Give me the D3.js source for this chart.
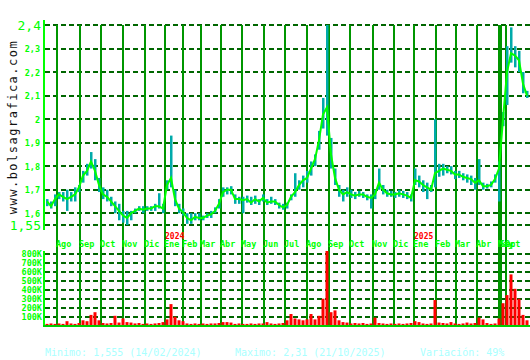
<!DOCTYPE html>
<meta charset="utf-8">
<style>
  body { margin: 0; background: #fff; }
  svg { display: block; }
  text { font-family: "DejaVu Sans Mono", monospace; }
</style>
<script src="https://d3js.org/d3.v7.min.js"></script>
<div id="chart"></div>
<script>
// one entry = one block of ~4 trading days, Jul 2023 .. Oct 2025
var close = [1.65,1.63,1.66,1.68,1.67,1.66,1.67,1.68,1.71,1.76,1.78,1.82,1.78,1.72,1.68,1.67,1.65,1.63,1.61,1.59,
  1.58,1.60,1.61,1.62,1.615,1.62,1.62,1.63,1.63,1.62,1.72,1.75,1.66,1.62,1.605,1.58,1.57,1.585,1.58,1.58,
  1.59,1.595,1.61,1.64,1.69,1.70,1.70,1.66,1.66,1.655,1.66,1.645,1.66,1.65,1.665,1.645,1.65,1.65,1.635,1.625,
  1.635,1.67,1.69,1.72,1.74,1.75,1.79,1.83,1.91,2.02,2.05,1.85,1.75,1.70,1.68,1.69,1.68,1.675,1.68,1.68,
  1.67,1.665,1.68,1.73,1.70,1.685,1.68,1.68,1.685,1.68,1.675,1.665,1.74,1.735,1.72,1.71,1.70,1.77,1.78,1.79,
  1.785,1.78,1.765,1.765,1.755,1.75,1.745,1.73,1.74,1.715,1.715,1.72,1.745,1.79,2.00,2.20,2.28,2.27,2.25,2.15,
  2.10];
var high = [1.66,1.65,1.68,1.69,1.69,1.70,1.69,1.71,1.72,1.78,1.81,1.86,1.83,1.75,1.71,1.70,1.67,1.65,1.64,1.61,
  1.61,1.61,1.62,1.63,1.63,1.63,1.63,1.64,1.685,1.64,1.74,1.93,1.70,1.64,1.62,1.60,1.60,1.60,1.60,1.59,
  1.60,1.61,1.625,1.66,1.71,1.71,1.715,1.68,1.67,1.67,1.675,1.67,1.675,1.66,1.68,1.66,1.67,1.66,1.645,1.64,
  1.645,1.68,1.77,1.74,1.76,1.78,1.82,1.85,1.95,2.09,2.40,1.92,1.79,1.72,1.70,1.71,1.70,1.69,1.695,1.69,
  1.68,1.68,1.70,1.79,1.72,1.70,1.695,1.69,1.70,1.695,1.69,1.68,1.79,1.76,1.74,1.73,1.72,2.00,1.81,1.81,
  1.80,1.80,1.78,1.78,1.77,1.765,1.76,1.75,1.83,1.73,1.725,1.735,1.765,1.82,2.03,2.31,2.39,2.31,2.29,2.20,
  2.12];
var low = [1.63,1.62,1.63,1.66,1.65,1.61,1.65,1.65,1.69,1.73,1.76,1.79,1.74,1.69,1.66,1.65,1.63,1.60,1.57,1.56,
  1.55,1.57,1.60,1.61,1.60,1.61,1.61,1.61,1.62,1.60,1.70,1.71,1.63,1.60,1.59,1.555,1.555,1.57,1.57,1.57,
  1.58,1.58,1.60,1.62,1.67,1.68,1.68,1.64,1.64,1.60,1.645,1.635,1.64,1.635,1.65,1.635,1.64,1.635,1.62,1.615,
  1.62,1.655,1.67,1.70,1.71,1.73,1.76,1.80,1.87,1.96,1.93,1.79,1.72,1.67,1.65,1.67,1.665,1.66,1.67,1.665,
  1.655,1.62,1.66,1.70,1.68,1.67,1.67,1.665,1.67,1.665,1.66,1.65,1.72,1.71,1.69,1.66,1.69,1.71,1.755,1.76,
  1.77,1.765,1.745,1.75,1.74,1.73,1.72,1.70,1.72,1.70,1.705,1.71,1.73,1.65,1.97,2.06,2.24,2.22,2.20,2.11,
  2.09];
// volume, thousands of shares
var volume = [20,25,20,25,20,50,25,20,30,60,50,120,150,60,30,25,30,110,35,80,
  40,35,25,30,20,25,20,25,30,40,70,240,100,60,50,25,20,25,20,25,
  20,25,25,30,40,40,35,20,25,20,20,25,20,25,25,40,25,20,25,30,
  60,130,80,70,60,70,130,70,110,300,830,150,170,60,40,35,25,30,25,30,
  20,25,90,30,25,20,25,20,25,20,25,30,50,40,25,20,25,285,35,30,
  25,40,25,20,25,35,25,30,90,70,30,20,25,80,250,340,570,410,300,120,
  60];

var monthPos = [3.1,8.8,14.1,19.6,25.1,29.9,34.6,39.1,44.1,49.3,54.8,59.9,65.6,71.1,76.3,82.1,87.3,92.3,97.75,102.8,108.1,113.6,114.0,115.3];
var monthLbl = ["Ago","Sep","Oct","Nov","Dic","Ene","Feb","Mar","Abr","May","Jun","Jul","Ago","Sep","Oct","Nov","Dic","Ene","Feb","Mar","Abr","May","Sep","Oct"];
var yearPos = [29.9, 92.3];
var yearLbl = ["2024", "2025"];

var priceTicks = [1.55,1.6,1.7,1.8,1.9,2.0,2.1,2.2,2.3,2.4];
var priceLbl = ["1,55","1,6","1,7","1,8","1,9","2","2,1","2,2","2,3","2,4"];
var volTicks = [100,200,300,400,500,600,700,800];

var W = 530, H = 360;
var svg = d3.select("#chart").append("svg").attr("width", W).attr("height", H);
svg.append("rect").attr("width", W).attr("height", H).attr("fill", "#fff");

var x = d3.scaleLinear().domain([0, close.length]).range([45, 529]);
var y = d3.scaleLinear().domain([1.55, 2.4]).range([225, 25]);
var yv = d3.scaleLinear().domain([0, 800]).range([325.7, 253.7]);

// horizontal dashed grid
svg.append("g").selectAll("line").data(priceTicks).join("line")
  .attr("x1", 45).attr("x2", 530)
  .attr("y1", function(d) { return Math.round(y(d)); })
  .attr("y2", function(d) { return Math.round(y(d)); })
  .attr("stroke", "#006600").attr("stroke-width", 2).attr("stroke-dasharray", "5,3");
svg.append("g").selectAll("line").data(volTicks).join("line")
  .attr("x1", 45).attr("x2", 530)
  .attr("y1", function(d) { return Math.round(yv(d)); })
  .attr("y2", function(d) { return Math.round(yv(d)); })
  .attr("stroke", "#006600").attr("stroke-width", 2).attr("stroke-dasharray", "5,3");

// month lines
svg.append("g").selectAll("line").data(monthPos).join("line")
  .attr("x1", function(d) { return Math.round(x(d)); })
  .attr("x2", function(d) { return Math.round(x(d)); })
  .attr("y1", 25).attr("y2", 326)
  .attr("stroke", "#009600").attr("stroke-width", 2);

// month + year labels
svg.append("g").selectAll("text").data(monthPos).join("text")
  .attr("x", function(d) { return Math.round(x(d)) - 1; })
  .attr("y", 247)
  .attr("fill", "#00ff00").attr("font-size", "8.5px").attr("font-weight", "bold")
  .text(function(d, i) { return monthLbl[i]; });
svg.append("g").selectAll("text").data(yearPos).join("text")
  .attr("x", function(d) { return Math.round(x(d)); })
  .attr("y", 239)
  .attr("fill", "#ff0000").attr("font-size", "8px").attr("font-weight", "bold")
  .text(function(d, i) { return yearLbl[i]; });

// high-low bars
var plot = svg.append("g");
plot.selectAll("rect.hl").data(close).join("rect")
  .attr("class", "hl")
  .attr("x", function(d, i) { return x(i) + 1; })
  .attr("width", 2.5)
  .attr("y", function(d, i) { return y(high[i]); })
  .attr("height", function(d, i) { return Math.max(1, y(low[i]) - y(high[i])); })
  .attr("fill", "#00aaaa");

// close line
var line = d3.line()
  .x(function(d, i) { return x(i + 0.5); })
  .y(function(d) { return y(d); });
plot.append("path").datum(close)
  .attr("d", line)
  .attr("fill", "none").attr("stroke", "#00ff00").attr("stroke-width", 2);

// volume bars
svg.append("g").selectAll("rect").data(volume).join("rect")
  .attr("x", function(d, i) { return x(i) + 0.5; })
  .attr("width", 3)
  .attr("y", function(d) { return Math.max(250, yv(d)); })
  .attr("height", function(d) { return 325.7 - Math.max(250, yv(d)); })
  .attr("fill", "#ff0000");

// axes lines
svg.append("line").attr("x1", 44).attr("x2", 44).attr("y1", 20).attr("y2", 230)
  .attr("stroke", "#00ff00").attr("stroke-width", 2);
svg.append("line").attr("x1", 44).attr("x2", 44).attr("y1", 251).attr("y2", 327)
  .attr("stroke", "#00ff00").attr("stroke-width", 2);
svg.append("line").attr("x1", 43).attr("x2", 530).attr("y1", 326).attr("y2", 326)
  .attr("stroke", "#00cc00").attr("stroke-width", 2);

// price labels
svg.append("g").selectAll("text").data(priceTicks).join("text")
  .attr("x", function(d) { return (d === 2.4 || d === 1.55) ? 41 : 40; })
  .attr("y", function(d) { return y(d); })
  .attr("dy", function(d) { return (d === 2.4 || d === 1.55) ? "0.38em" : "0.42em"; })
  .attr("text-anchor", "end")
  .attr("fill", "#00ff00")
  .attr("font-size", function(d) { return (d === 2.4 || d === 1.55) ? "13px" : "8.5px"; })
  .attr("font-weight", function(d) { return (d === 2.4 || d === 1.55) ? "normal" : "bold"; })
  .text(function(d, i) { return priceLbl[i]; });

// volume labels
svg.append("g").selectAll("text").data(volTicks).join("text")
  .attr("x", 42).attr("y", function(d) { return yv(d); }).attr("dy", "0.38em")
  .attr("text-anchor", "end").attr("fill", "#00ff00")
  .attr("font-size", "8.5px").attr("font-weight", "bold")
  .text(function(d) { return d + "K"; });

// site name
svg.append("text")
  .attr("transform", "translate(17,127) rotate(-90)")
  .attr("text-anchor", "middle").attr("fill", "#111")
  .attr("font-size", "12px").attr("letter-spacing", "1.5px")
  .text("www.bolsagrafica.com");

// footer
var foot = [["Minimo: 1,555 (14/02/2024)", 45], ["Maximo: 2,31 (21/10/2025)", 235], ["Variación: 49%", 420]];
svg.append("g").selectAll("text").data(foot).join("text")
  .attr("x", function(d) { return d[1]; }).attr("y", 356)
  .attr("fill", "#aaffff").attr("font-size", "10px")
  .text(function(d) { return d[0]; });
</script>
